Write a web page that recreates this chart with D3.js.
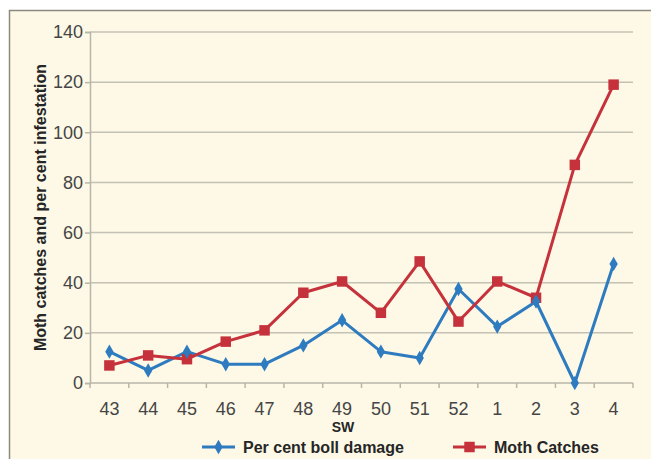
<!DOCTYPE html>
<html>
<head>
<meta charset="utf-8">
<script src="https://cdn.jsdelivr.net/npm/d3@7"></script>
<style>
  html, body { margin: 0; padding: 0; background: #ffffff; }
  svg { display: block; font-family: "Liberation Sans", Arial, sans-serif; }
</style>
</head>
<body>
<svg id="chart" width="651" height="459"></svg>
<script>
// Standard weeks (SW) along the x axis
const weeks = ["43", "44", "45", "46", "47", "48", "49", "50", "51", "52", "1", "2", "3", "4"];
// Per cent boll damage by week
const bollDamage = [12.5, 5, 12.5, 7.5, 7.5, 15, 25, 12.5, 10, 37.5, 22.5, 32.5, 0, 47.5];
// Pheromone trap moth catches by week
const mothCatches = [7, 11, 9.5, 16.5, 21, 36, 40.5, 28, 48.5, 24.5, 40.5, 34, 87, 119];
const yTicks = [0, 20, 40, 60, 80, 100, 120, 140];

const svg = d3.select("#chart");
const W = 651, H = 459;
const margin = { left: 90, right: 18, top: 32, bottom: 76 };
const tickFont = 18;

// chart frame
svg.append("rect")
  .attr("x", 9.5).attr("y", 10.5)
  .attr("width", W).attr("height", H)
  .attr("fill", "#fdf9e6")
  .attr("stroke", "#8c8a80").attr("stroke-width", 1.5);

const x = d3.scaleBand().domain(weeks)
  .range([margin.left, W - margin.right]).padding(0);
const y = d3.scaleLinear().domain([0, 140])
  .range([H - margin.bottom, margin.top]);

// horizontal gridlines
svg.append("g").selectAll("line").data(yTicks.slice(1)).join("line")
  .attr("x1", margin.left).attr("x2", W - margin.right)
  .attr("y1", d => y(d)).attr("y2", d => y(d))
  .attr("stroke", "#c4c2b4").attr("stroke-width", 1.5);

// y axis
const yAxis = svg.append("g")
  .attr("transform", `translate(${margin.left},0)`)
  .call(d3.axisLeft(y).tickValues(yTicks).tickSize(5).tickPadding(2));
yAxis.attr("font-size", tickFont).attr("font-family", "Liberation Sans, Arial, sans-serif");
yAxis.select(".domain").attr("stroke", "#b8b6a8").attr("stroke-width", 1.5);
yAxis.selectAll(".tick line").attr("stroke", "#b8b6a8").attr("stroke-width", 1.5);
yAxis.selectAll("text").attr("fill", "#454545");

// x axis: ticks sit on the band boundaries, labels at band centres
const xg = svg.append("g").attr("transform", `translate(0,${y(0)})`);
xg.append("line")
  .attr("x1", margin.left).attr("x2", W - margin.right)
  .attr("stroke", "#b8b6a8").attr("stroke-width", 1.5);
const bounds = weeks.map(w => x(w)).concat([x(weeks[weeks.length - 1]) + x.bandwidth()]);
xg.selectAll("line.tk").data(bounds).join("line").attr("class", "tk")
  .attr("x1", d => d).attr("x2", d => d).attr("y1", 0).attr("y2", 5)
  .attr("stroke", "#b8b6a8").attr("stroke-width", 1.5);
xg.selectAll("text").data(weeks).join("text")
  .attr("x", d => x(d) + x.bandwidth() / 2).attr("y", 32)
  .attr("text-anchor", "middle").attr("font-size", tickFont).attr("fill", "#454545")
  .text(d => d);

// axis titles
svg.append("text")
  .attr("x", 343).attr("y", 432).attr("text-anchor", "middle")
  .attr("font-size", 14).attr("font-weight", "bold").attr("fill", "#262626")
  .text("SW");
svg.append("text")
  .attr("transform", `translate(46,${(y(0) + y(140)) / 2}) rotate(-90)`)
  .attr("text-anchor", "middle")
  .attr("font-size", 16).attr("font-weight", "bold").attr("fill", "#262626")
  .text("Moth catches and per cent infestation");

const blue = "#2e7bbf", red = "#c5323b";
const cx = (d, i) => x(weeks[i]) + x.bandwidth() / 2;
const line = d3.line().x(cx).y(d => y(d));

// series lines
svg.append("path").datum(bollDamage).attr("d", line)
  .attr("fill", "none").attr("stroke", blue).attr("stroke-width", 3)
  .attr("stroke-linejoin", "round");
svg.append("path").datum(mothCatches).attr("d", line)
  .attr("fill", "none").attr("stroke", red).attr("stroke-width", 3)
  .attr("stroke-linejoin", "round");

const diamond = d3.symbol().type(d3.symbolDiamond).size(60);
const square = d3.symbol().type(d3.symbolSquare).size(110);

svg.append("g").selectAll("path").data(mothCatches).join("path")
  .attr("d", square)
  .attr("transform", (d, i) => `translate(${cx(d, i)},${y(d)})`)
  .attr("fill", red);
svg.append("g").selectAll("path").data(bollDamage).join("path")
  .attr("d", diamond)
  .attr("transform", (d, i) => `translate(${cx(d, i)},${y(d)})`)
  .attr("fill", blue);

// legend
const legend = [
  { name: "Per cent boll damage", color: blue, sym: diamond, x: 202 },
  { name: "Moth Catches", color: red, sym: square, x: 453 }
];
const lg = svg.append("g").selectAll("g").data(legend).join("g")
  .attr("transform", d => `translate(${d.x},447)`);
lg.append("line").attr("x1", 0).attr("x2", 33)
  .attr("stroke", d => d.color).attr("stroke-width", 3);
lg.append("path").attr("d", d => d.sym()).attr("transform", "translate(16.5,0)")
  .attr("fill", d => d.color);
lg.append("text").attr("x", 41).attr("y", 6)
  .attr("font-size", 16).attr("font-weight", "bold").attr("fill", "#262626")
  .text(d => d.name);
</script>
</body>
</html>
